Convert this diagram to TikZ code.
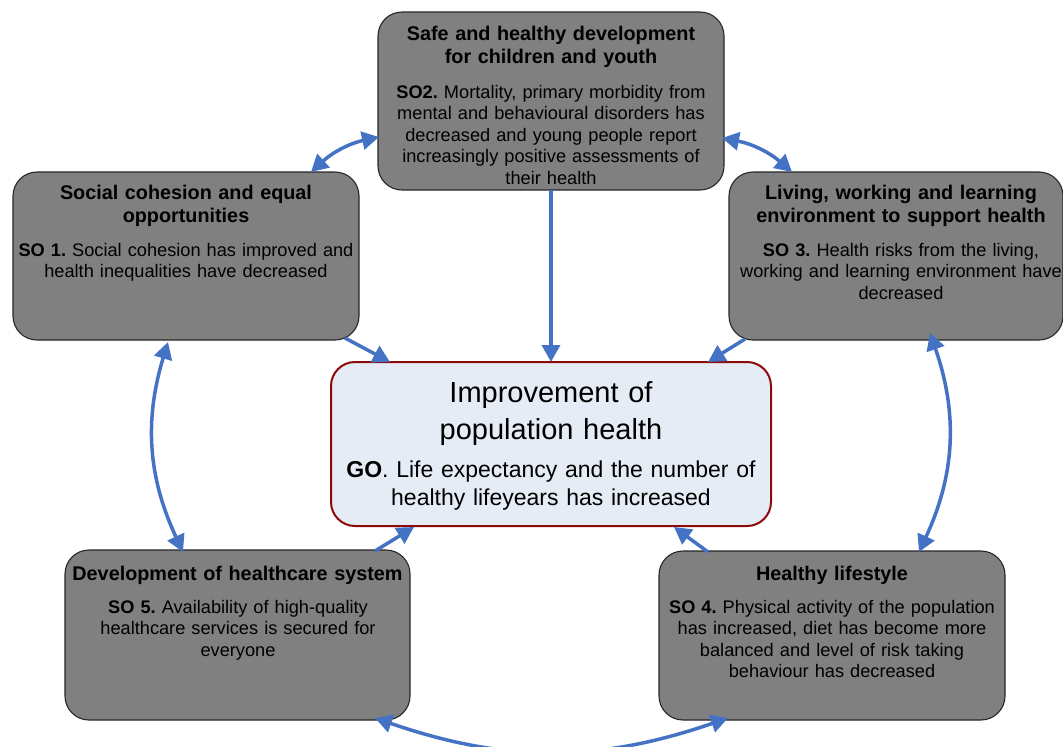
\documentclass[tikz,border=0pt]{standalone}
\usepackage{fontspec}
\setmainfont{Liberation Sans}
\usetikzlibrary{arrows.meta}
\frenchspacing
\definecolor{boxgray}{HTML}{808080}
\definecolor{flowblue}{HTML}{4472C4}
\definecolor{goalfill}{HTML}{E6ECF5}
\definecolor{goalrim}{HTML}{8B0A0A}
\begin{document}
\begin{tikzpicture}[x=1pt,y=-1pt,
  objbox/.style={draw=black!85, line width=1.1pt, fill=boxgray, rounded corners=24pt,
    inner sep=0pt, outer sep=0pt},
  goalbox/.style={draw=goalrim, line width=2pt, fill=goalfill, rounded corners=24pt,
    inner sep=0pt, outer sep=0pt},
  headtxt/.style={anchor=base, inner sep=0pt, text width=360pt, align=center,
    font=\fontsize{19.8}{23}\selectfont\bfseries},
  bodytxt/.style={anchor=base, inner sep=0pt, text width=360pt, align=center,
    font=\fontsize{18.2}{21.6}\selectfont},
  goalhead/.style={anchor=base, inner sep=0pt, text width=440pt, align=center,
    font=\fontsize{29}{37}\selectfont},
  goalbody/.style={anchor=base, inner sep=0pt, text width=440pt, align=center,
    font=\fontsize{23}{28}\selectfont},
  flow/.style={draw=flowblue, line width=3.5pt,
    -{Triangle[length=17pt,width=18pt]}},
  twoway/.style={draw=flowblue, line width=3.5pt,
    {Triangle[length=17pt,width=18pt]}-{Triangle[length=17pt,width=18pt]}}
]
\clip (0,0) rectangle (1063,747);
\fill[white] (0,0) rectangle (1063,747);

% objective boxes
\node[objbox, minimum width=346pt, minimum height=178pt] (so2) at (551,101) {};
\node[objbox, minimum width=346pt, minimum height=168pt] (so1) at (186,256) {};
\node[objbox, minimum width=334pt, minimum height=168pt] (so3) at (896,256) {};
\node[objbox, minimum width=345pt, minimum height=170pt] (so5) at (237.5,635) {};
\node[objbox, minimum width=346pt, minimum height=169pt] (so4) at (832,635.5) {};
\node[goalbox, minimum width=440pt, minimum height=164pt] (go) at (551,444) {};

% texts
\node[headtxt] (so2h) at (551,40) {Safe and healthy development\\for children and youth};
\node[bodytxt] (so2b) at (551,98) {\textbf{SO2.} Mortality, primary morbidity from\\mental and behavioural disorders has\\decreased and young people report\\increasingly positive assessments of\\their health};

\node[headtxt] (so1h) at (186,199) {Social cohesion and equal\\opportunities};
\node[bodytxt] (so1b) at (186,256) {\textbf{SO 1.} Social cohesion has improved and\\health inequalities have decreased};

\node[headtxt] (so3h) at (901,199) {Living, working and learning\\environment to support health};
\node[bodytxt] (so3b) at (901,256) {\textbf{SO 3.} Health risks from the living,\\working and learning environment have\\decreased};

\node[headtxt] (so5h) at (237.5,580) {Development of healthcare system};
\node[bodytxt] (so5b) at (238,613) {\textbf{SO 5.} Availability of high-quality\\healthcare services is secured for\\everyone};

\node[headtxt] (so4h) at (832,580) {Healthy lifestyle};
\node[bodytxt] (so4b) at (832,613) {\textbf{SO 4.} Physical activity of the population\\has increased, diet has become more\\balanced and level of risk taking\\behaviour has decreased};

\node[goalhead] (goh) at (551,402) {Improvement of\\population health};
\node[goalbody] (gob) at (551,477) {\textbf{GO}. Life expectancy and the number of\\healthy lifeyears has increased};

% arrows into the goal
\draw[flow] (so2.south) -- (go.north);
\draw[flow] ([xshift=159pt,yshift=2pt]so1.south) -- ([xshift=59pt]go.north west);
\draw[flow] ([xshift=-151pt,yshift=1pt]so3.south) -- ([xshift=-63pt]go.north east);
\draw[flow] ([xshift=137.5pt,yshift=-1pt]so5.north) -- ([xshift=83pt,yshift=-1pt]go.south west);
\draw[flow] ([xshift=-124pt,yshift=-1pt]so4.north) -- ([xshift=-97pt,yshift=-1pt]go.south east);

% ring of two-way links between objectives
\draw[twoway] ([xshift=1pt,yshift=-36pt]so2.west) to[bend right=15] ([xshift=125pt]so1.north);
\draw[twoway] ([xshift=-2pt,yshift=-37pt]so2.east) to[bend left=15] ([xshift=-104pt]so3.north);
\draw[twoway] ([xshift=-18pt,yshift=-2pt]so1.south) to[bend right=21] ([xshift=-54.5pt,yshift=-2pt]so5.north);
\draw[twoway] ([xshift=34pt,yshift=7pt]so3.south) to[bend left=22] ([xshift=87pt,yshift=-1pt]so4.north);
\draw[twoway] ([xshift=137.5pt,yshift=2pt]so5.south) to[bend right=19] ([xshift=-104pt,yshift=2pt]so4.south);
\end{tikzpicture}
\end{document}
